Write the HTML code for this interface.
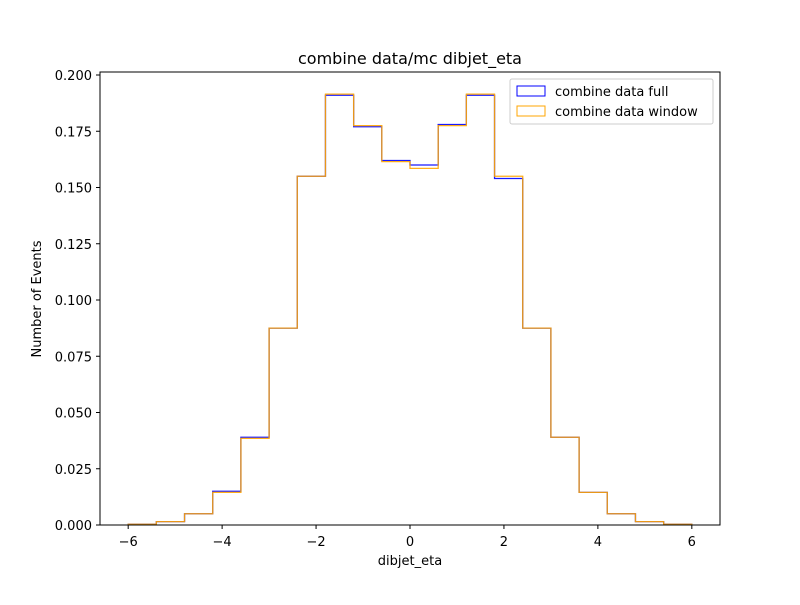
<!DOCTYPE html>
<html><head><meta charset="utf-8"><style>
body{margin:0;background:#fff}
text{font-family:"DejaVu Sans","Liberation Sans",sans-serif;font-size:13px;fill:#000}
</style></head><body>
<svg id="chart" width="800" height="600" xmlns="http://www.w3.org/2000/svg">
<rect width="800" height="600" fill="#fff"/>
<text x="410" y="64" text-anchor="middle" style="font-size:16px">combine data/mc dibjet_eta</text>
<text x="410" y="565" text-anchor="middle">dibjet_eta</text>
<text transform="translate(41,299) rotate(-90)" text-anchor="middle">Number of Events</text>
<g id="plot"></g>
<rect x="100" y="72" width="620" height="453" fill="none" stroke="#000" stroke-width="1"/>
<g>
<rect x="510" y="79" width="203" height="45" fill="#fff" stroke="#ccc" rx="2"/>
<rect x="517" y="86" width="28" height="10" fill="none" stroke="blue"/>
<text x="555" y="96">combine data full</text>
<rect x="517" y="106" width="28" height="10" fill="none" stroke="orange"/>
<text x="555" y="116">combine data window</text>
</g>
</svg>
<script>
const binEdges=[-6,-5.4,-4.8,-4.2,-3.6,-3.0,-2.4,-1.8,-1.2,-0.6,0,0.6,1.2,1.8,2.4,3.0,3.6,4.2,4.8,5.4,6];
const fullValues=[0.0003,0.0015,0.005,0.015,0.039,0.0875,0.155,0.191,0.177,0.162,0.160,0.178,0.191,0.154,0.0875,0.039,0.0145,0.005,0.0015,0.0003];
const windowValues=[0.0003,0.0015,0.005,0.0145,0.0385,0.0875,0.155,0.1915,0.1775,0.1615,0.1585,0.1775,0.1915,0.155,0.0875,0.039,0.0145,0.005,0.0015,0.0003];
const xTicks=[-6,-4,-2,0,2,4,6];
const xTickLabels=["−6","−4","−2","0","2","4","6"];
const yTicks=[0,0.025,0.05,0.075,0.1,0.125,0.15,0.175,0.2];
const yTickLabels=["0.000","0.025","0.050","0.075","0.100","0.125","0.150","0.175","0.200"];
const NS="http://www.w3.org/2000/svg";
const X=v=>100+(v+6.6)/13.2*620;
const Y=v=>525-v/0.2*450;
const g=document.getElementById('plot');
function mk(t,a){const e=document.createElementNS(NS,t);for(const k in a)e.setAttribute(k,a[k]);g.appendChild(e);return e;}
xTicks.forEach((t,i)=>{
 const l=mk('line',{x1:X(t),x2:X(t),y1:525,y2:529,stroke:'#000'});
 
 
 const tx=mk('text',{x:X(t),y:546,'text-anchor':'middle'});tx.textContent=xTickLabels[i];
 
 
});
yTicks.forEach((t,i)=>{
 const l=mk('line',{x1:96,x2:100,y1:Y(t),y2:Y(t),stroke:'#000'});
 
 
 const tx=mk('text',{x:92,y:Y(t)+5,'text-anchor':'end'});tx.textContent=yTickLabels[i];
 
 
});
function step(vals,color,name){
 let d='M'+X(binEdges[0])+','+Y(0);
 vals.forEach((v,i)=>{d+=' L'+X(binEdges[i])+','+Y(v)+' L'+X(binEdges[i+1])+','+Y(v);});
 d+=' L'+X(binEdges[binEdges.length-1])+','+Y(0);
 const p=mk('path',{d:d,fill:'none',stroke:color,'stroke-width':1.3,'stroke-opacity':0.9});
 
 
}
step(fullValues,'blue','series-full');
step(windowValues,'orange','series-window');
</script>
</body></html>
